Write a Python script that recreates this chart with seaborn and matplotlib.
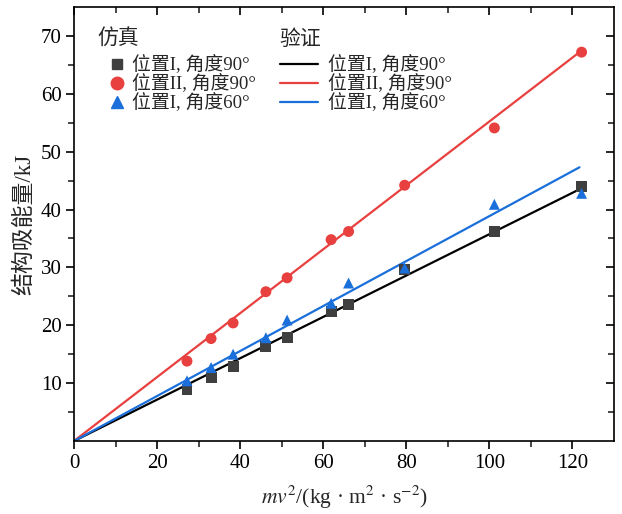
import numpy as np
import pandas as pd
import matplotlib
matplotlib.use("Agg")
import matplotlib.pyplot as plt
from matplotlib.lines import Line2D
import seaborn as sns

# ---- data ----
x_sim = [27.2, 33.0, 38.3, 46.2, 51.3, 61.9, 66.1, 79.6, 101.2, 122.2]
y_pos1_90 = [8.9, 11.05, 12.95, 16.35, 17.96, 22.45, 23.66, 29.6, 36.15, 43.9]
y_pos2_90 = [13.8, 17.7, 20.4, 25.8, 28.2, 34.8, 36.2, 44.2, 54.1, 67.2]
y_pos1_60 = [10.4, 12.7, 15.0, 17.85, 20.9, 23.8, 27.3, 29.9, 40.9, 42.8]

x_fit = [0, 121.7]
fit_pos1_90 = [0, 43.5]
fit_pos2_90 = [0, 67.2]
fit_pos1_60 = [0, 47.3]

series = ["位置I, 角度90°", "位置II, 角度90°", "位置I, 角度60°"]
x_ticks = [0, 20, 40, 60, 80, 100, 120]
y_ticks = [10, 20, 30, 40, 50, 60, 70]

sim_colors = ["#3f3f3f", "#e8403f", "#1a6fdb"]
fit_colors = ["#000000", "#e8403f", "#1a6fdb"]
markers = ["s", "o", "^"]

sim_df = pd.DataFrame({
    "x": x_sim * 3,
    "y": y_pos1_90 + y_pos2_90 + y_pos1_60,
    "s": [series[0]] * 10 + [series[1]] * 10 + [series[2]] * 10,
})
fit_df = pd.DataFrame({
    "x": x_fit * 3,
    "y": fit_pos1_90 + fit_pos2_90 + fit_pos1_60,
    "s": [series[0]] * 2 + [series[1]] * 2 + [series[2]] * 2,
})

sns.set_theme(style="ticks")
plt.rcParams["font.family"] = ["Liberation Serif", "Noto Sans CJK SC", "DejaVu Sans"]
plt.rcParams["mathtext.fontset"] = "stix"
plt.rcParams["axes.unicode_minus"] = False

fig = plt.figure(figsize=(6.22, 5.14), dpi=100)
ax = fig.add_axes([74/622, 1 - 441/514, 540/622, 434/514])

sns.lineplot(data=fit_df, x="x", y="y", hue="s", palette=dict(zip(series, fit_colors)),
             linewidth=1.6, legend=False, ax=ax, zorder=2)
sns.scatterplot(data=sim_df, x="x", y="y", hue="s", style="s",
                palette=dict(zip(series, sim_colors)),
                markers=dict(zip(series, markers)),
                s=62, edgecolor="none", legend=False, ax=ax, zorder=3)

ax.set_xlim(0, 130)
ax.set_ylim(0, 75)
ax.set_xticks(x_ticks)
ax.set_yticks(y_ticks)
ax.set_xticks(np.arange(10, 130, 20), minor=True)
ax.set_yticks(np.arange(5, 75, 10), minor=True)
ax.tick_params(axis="both", which="major", direction="out", length=6, width=1.2,
               labelsize=15, colors="black", top=True, right=True, pad=3)
ax.tick_params(axis="both", which="minor", direction="out", length=4, width=1.2,
               top=True, right=True)
for t in ax.xaxis.get_major_ticks() + ax.xaxis.get_minor_ticks():
    t.tick2line.set_marker(3)  # inward from top
for t in ax.yaxis.get_major_ticks() + ax.yaxis.get_minor_ticks():
    t.tick2line.set_marker(0)  # inward from right

for sp in ax.spines.values():
    sp.set_linewidth(1.2)
    sp.set_color("black")

ax.set_xlabel(r"$mv^2$/(kg · m$^2$ · s$^{-2}$)", fontsize=15.5, labelpad=8)
ax.set_ylabel("结构吸能量/kJ", fontsize=16.5, labelpad=4)

sim_handles = [Line2D([], [], linestyle="none", marker=m, color=c,
                      markersize=9 if m != "s" else 7.5)
               for c, m in zip(sim_colors, markers)]
fit_handles = [Line2D([], [], color=c, linewidth=1.6) for c in fit_colors]

leg_kw = dict(loc="upper left", frameon=False, fontsize=13.6,
              labelspacing=0.0, borderaxespad=0.0, borderpad=0.0)
leg1 = ax.legend(sim_handles, series, bbox_to_anchor=(0.061, 0.888),
                 handlelength=1.05, handletextpad=0.3, **leg_kw)
ax.add_artist(leg1)
leg2 = ax.legend(fit_handles, series, bbox_to_anchor=(0.381, 0.888),
                 handlelength=2.0, handletextpad=0.55, **leg_kw)
ax.text(0.043, 0.947, "仿真", transform=ax.transAxes, fontsize=15, va="top", ha="left")
ax.text(0.381, 0.947, "验证", transform=ax.transAxes, fontsize=15, va="top", ha="left")

fig.savefig("out.png", dpi=100, facecolor="white")
